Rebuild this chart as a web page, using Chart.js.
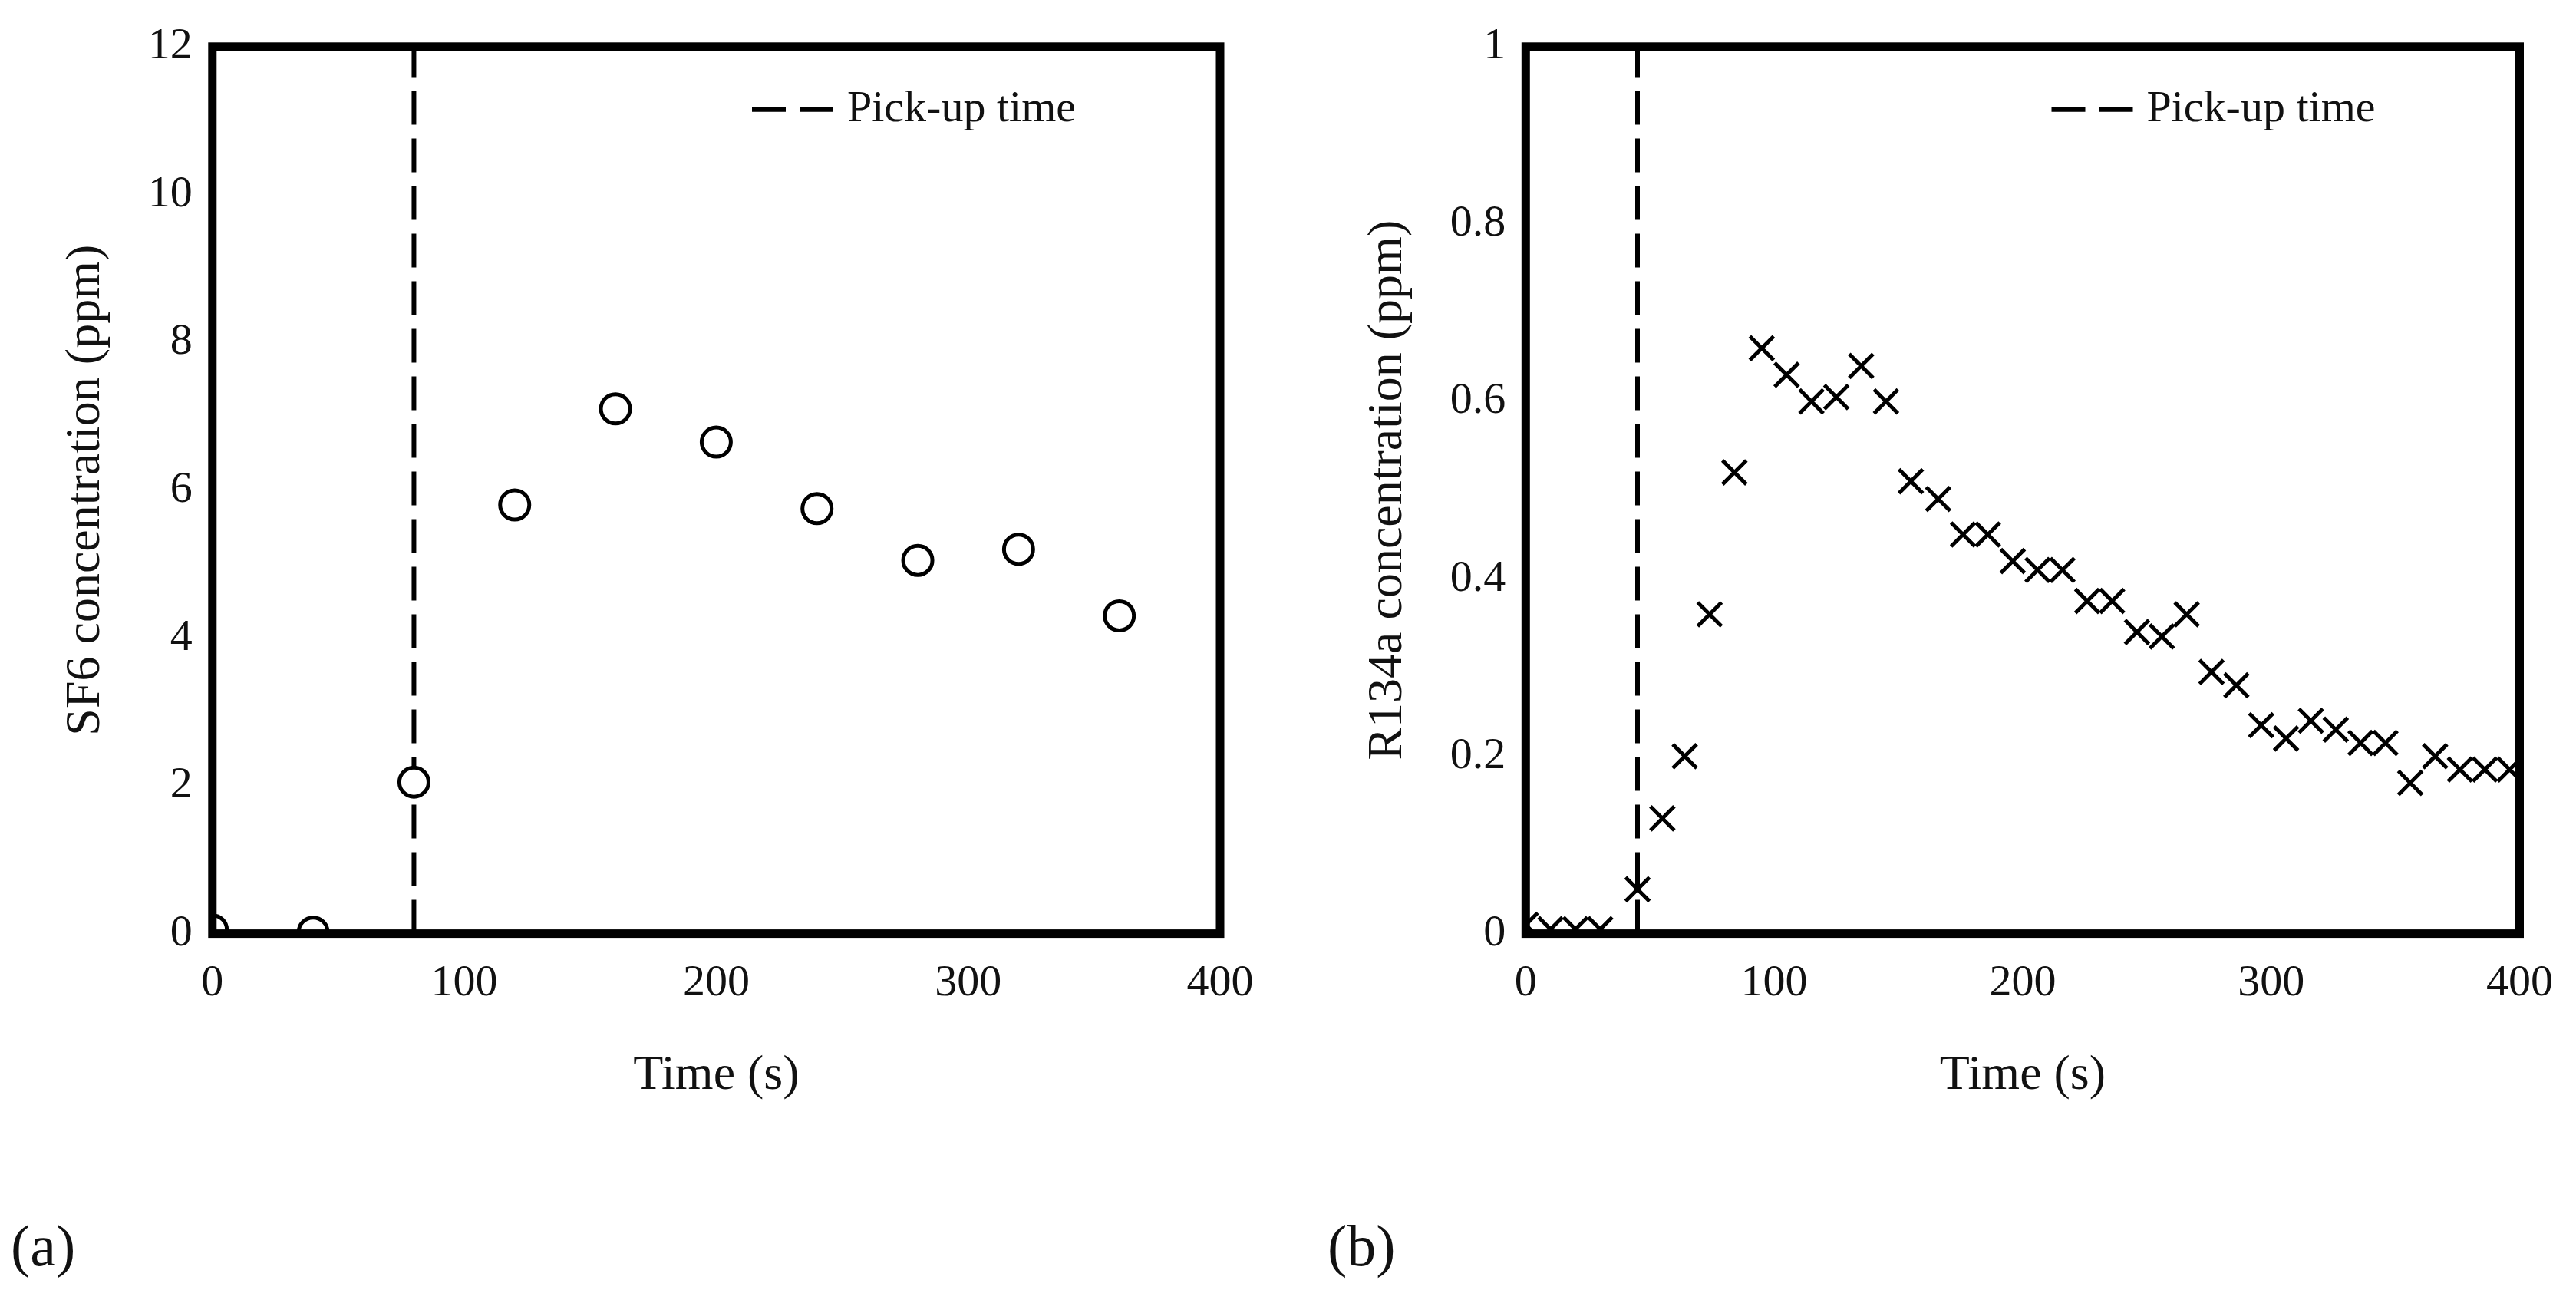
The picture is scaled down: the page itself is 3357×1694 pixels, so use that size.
<!DOCTYPE html>
<html>
<head>
<meta charset="utf-8">
<script src="https://cdn.jsdelivr.net/npm/chart.js@4.4.0/dist/chart.umd.min.js"></script>
<style>
  body { margin: 0; background: #fff; width: 3357px; height: 1694px; position: relative; overflow: hidden; }
  canvas { position: absolute; top: 0; }
  .tag { position: absolute; top: 1580px; font: 76px "Liberation Serif", serif; color: #111; }
</style>
</head>
<body>
<canvas id="chartA" width="1680" height="1500" style="left:0"></canvas>
<canvas id="chartB" width="1680" height="1500" style="left:1677px"></canvas>
<div class="tag" style="left:14px">(a)</div>
<div class="tag" style="left:1730px">(b)</div>
<script>
// SF6 data (a)
const sf6Time = [0, 40, 80, 120, 160, 200, 240, 280, 320, 360];
const sf6Conc = [0.05, 0.02, 2.05, 5.8, 7.1, 6.65, 5.75, 5.05, 5.2, 4.3];
const sf6Pickup = 80;

// R134a data (b)
const r134Time = [0, 10, 20, 30, 45, 55, 64, 74, 84, 95, 105, 115, 125, 135, 145, 155, 166, 176, 186, 196,
  206, 216, 226, 236, 246, 256, 266, 276, 286, 296, 306, 316, 326, 336, 346, 356, 366, 376, 386, 396];
const r134Conc = [0.01, 0.005, 0.005, 0.005, 0.05, 0.13, 0.2, 0.36, 0.52, 0.66, 0.63, 0.6, 0.605, 0.64,
  0.6, 0.51, 0.49, 0.45, 0.45, 0.42, 0.41, 0.41, 0.375, 0.375, 0.34, 0.335, 0.36, 0.295, 0.28, 0.235,
  0.22, 0.24, 0.23, 0.215, 0.215, 0.17, 0.2, 0.185, 0.185, 0.185];
const r134Pickup = 45;

const xTicks = [0, 100, 200, 300, 400];
const serif = '"Liberation Serif", "Times New Roman", serif';

// thick frame + dashed legend inside the plot
const framePlugin = {
    id: 'frame',
    afterDraw(chart) {
        const { ctx, chartArea: a } = chart;
        ctx.save();
        ctx.strokeStyle = '#000';
        ctx.lineWidth = 11;
        ctx.strokeRect(a.left, a.top, a.right - a.left, a.bottom - a.top);
        // legend
        const lx = a.right - 610, ly = a.top + 82;
        ctx.lineWidth = 6;
        ctx.setLineDash([44, 18]);
        ctx.beginPath();
        ctx.moveTo(lx, ly);
        ctx.lineTo(lx + 106, ly);
        ctx.stroke();
        ctx.setLineDash([]);
        ctx.fillStyle = '#111';
        ctx.font = '58px ' + serif;
        ctx.textBaseline = 'middle';
        ctx.fillText('Pick-up time', lx + 124, ly);
        ctx.restore();
    }
};

function makeChart(id, times, conc, pickup, yMax, yStep, yTitle, pStyle, pRadius, pad) {
    const pts = times.map((t, i) => ({ x: t, y: conc[i] }));
    return new Chart(document.getElementById(id), {
        type: 'scatter',
        data: {
            datasets: [{
                data: pts,
                pointStyle: pStyle,
                pointRadius: pRadius,
                borderColor: '#000',
                backgroundColor: '#fff',
                borderWidth: 5
            }, {
                type: 'line',
                data: [{ x: pickup, y: 0 }, { x: pickup, y: yMax }],
                borderColor: '#000',
                borderWidth: 6,
                borderDash: [44, 18],
                pointRadius: 0
            }]
        },
        options: {
            responsive: false,
            devicePixelRatio: 1,
            animation: false,
            layout: { padding: pad },
            plugins: { legend: { display: false }, tooltip: { enabled: false } },
            scales: {
                x: {
                    type: 'linear', min: 0, max: 400,
                    afterBuildTicks: ax => { ax.ticks = xTicks.map(v => ({ value: v })); },
                    grid: { display: false, drawTicks: false },
                    border: { display: false },
                    ticks: { color: '#111', font: { family: serif, size: 58 }, padding: 30 },
                    title: { display: true, text: 'Time (s)', color: '#111', font: { family: serif, size: 64 }, padding: { top: 18 } }
                },
                y: {
                    min: 0, max: yMax,
                    grid: { display: false, drawTicks: false },
                    border: { display: false },
                    ticks: { stepSize: yStep, color: '#111', font: { family: serif, size: 58 }, padding: 26,
                        callback: v => String(Math.round(v * 10) / 10) },
                    title: { display: true, text: yTitle, color: '#111', font: { family: serif, size: 64 }, padding: { bottom: 16 } }
                }
            }
        },
        plugins: [framePlugin]
    });
}

makeChart('chartA', sf6Time, sf6Conc, sf6Pickup, 12, 2, 'SF6 concentration (ppm)', 'circle', 19,
    { top: 26, right: 90, left: 70, bottom: 55 });
makeChart('chartB', r134Time, r134Conc, r134Pickup, 1, 0.2, 'R134a concentration (ppm)', 'crossRot', 22,
    { top: 32, right: 60, left: 90, bottom: 55 });
</script>
</body>
</html>
